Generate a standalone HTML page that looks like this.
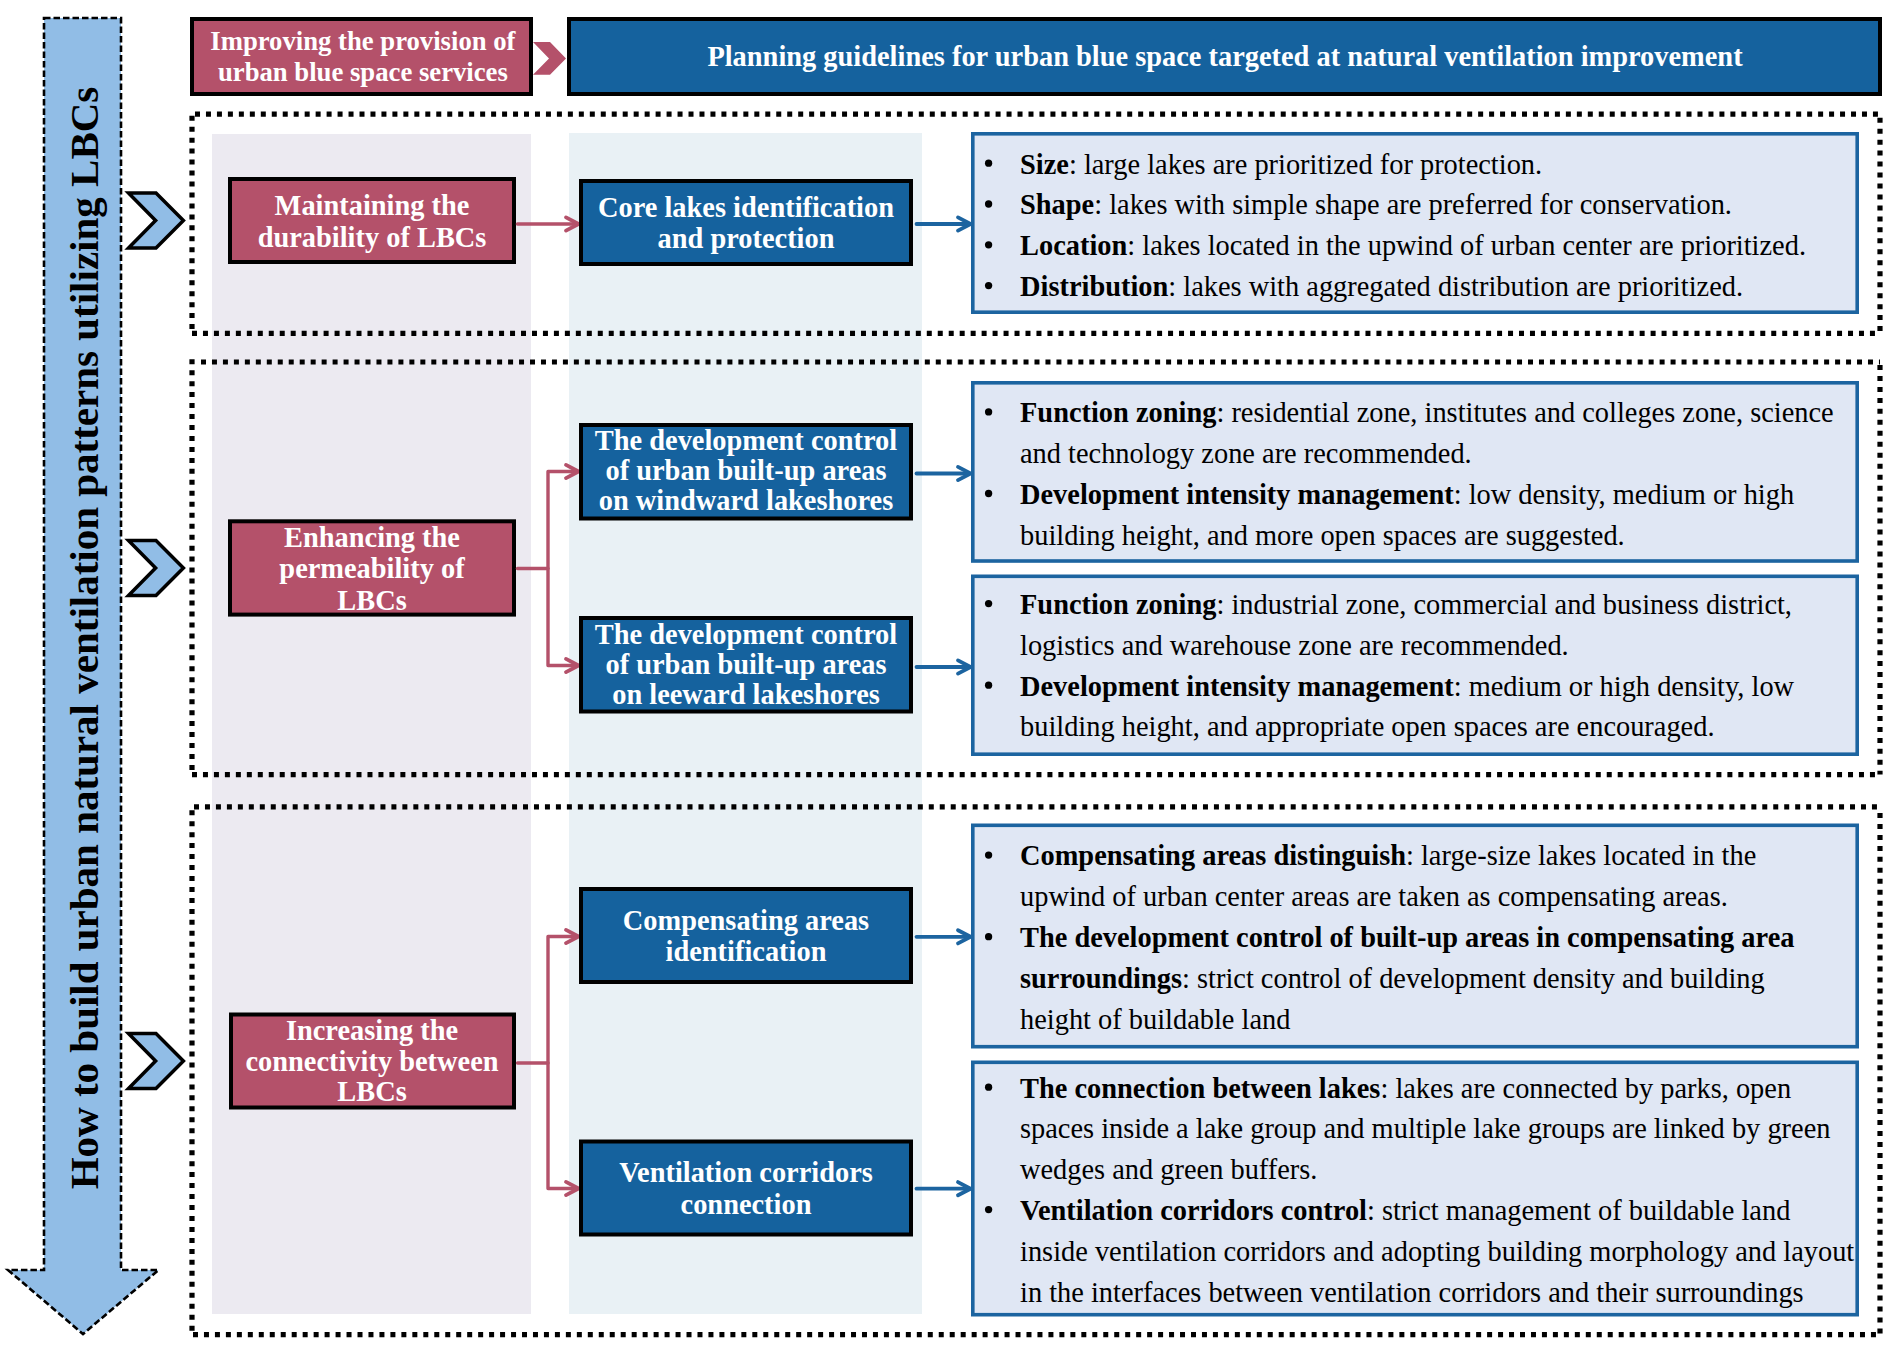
<!DOCTYPE html>
<html><head><meta charset="utf-8"><style>
html,body{margin:0;padding:0;background:#fff;width:1903px;height:1353px;overflow:hidden}
.t{position:absolute;white-space:nowrap;font-family:"Liberation Serif",serif}
svg{position:absolute;left:0;top:0}
</style></head><body>
<svg width="1903" height="1353" viewBox="0 0 1903 1353">
<rect x="212" y="134" width="319" height="1180" fill="#eceaf1"/>
<rect x="569" y="133" width="353" height="1181" fill="#e9f1f5"/>
<polygon points="44,18 121,18 121,1270 158.5,1270 83,1334 8,1270 44,1270" fill="#91bde6" stroke="#000" stroke-width="2.6" stroke-dasharray="6.5 3"/>
<rect x="192.0" y="19.0" width="339" height="75" fill="#b4516a" stroke="#000" stroke-width="4"/>
<polygon points="533,42 550,42 566,58.4 550,74.7 533,74.7 549,58.4" fill="#b4516a"/>
<rect x="569.0" y="19.0" width="1311" height="75" fill="#15629e" stroke="#000" stroke-width="4"/>
<line x1="195" y1="114.1" x2="1880" y2="114.1" stroke="#000" stroke-width="5.2" stroke-dasharray="5 5.967"/>
<line x1="192" y1="333.3" x2="1880" y2="333.3" stroke="#000" stroke-width="5.2" stroke-dasharray="5 5.967"/>
<line x1="192" y1="115.7" x2="192" y2="333.3" stroke="#000" stroke-width="5.2" stroke-dasharray="5 5.967"/>
<line x1="1880" y1="117.7" x2="1880" y2="333.3" stroke="#000" stroke-width="5.2" stroke-dasharray="5 5.967"/>
<line x1="201" y1="362" x2="1880" y2="362" stroke="#000" stroke-width="5.2" stroke-dasharray="5 5.967"/>
<line x1="192" y1="774.6" x2="1880" y2="774.6" stroke="#000" stroke-width="5.2" stroke-dasharray="5 5.967"/>
<line x1="192" y1="359.2" x2="192" y2="774.6" stroke="#000" stroke-width="5.2" stroke-dasharray="5 5.967"/>
<line x1="1880" y1="365" x2="1880" y2="774.6" stroke="#000" stroke-width="5.2" stroke-dasharray="5 5.967"/>
<line x1="194" y1="806.8" x2="1880" y2="806.8" stroke="#000" stroke-width="5.2" stroke-dasharray="5 5.967"/>
<line x1="193" y1="1334.6" x2="1880" y2="1334.6" stroke="#000" stroke-width="5.2" stroke-dasharray="5 5.967"/>
<line x1="192" y1="810.2" x2="192" y2="1334.6" stroke="#000" stroke-width="5.2" stroke-dasharray="5 5.967"/>
<line x1="1880" y1="813" x2="1880" y2="1334.6" stroke="#000" stroke-width="5.2" stroke-dasharray="5 5.967"/>
<polygon points="128.5,193.0 156.0,193.0 183.4,220.4 156.0,248.0 128.5,248.0 155.6,220.4" fill="#91bde6" stroke="#000" stroke-width="3.5" stroke-linejoin="miter" stroke-miterlimit="10"/>
<polygon points="128.5,540.6 156.0,540.6 183.4,568.0 156.0,595.6 128.5,595.6 155.6,568.0" fill="#91bde6" stroke="#000" stroke-width="3.5" stroke-linejoin="miter" stroke-miterlimit="10"/>
<polygon points="128.5,1033.6 156.0,1033.6 183.4,1061.0 156.0,1088.6 128.5,1088.6 155.6,1061.0" fill="#91bde6" stroke="#000" stroke-width="3.5" stroke-linejoin="miter" stroke-miterlimit="10"/>
<rect x="230.0" y="179.0" width="284" height="83" fill="#b4516a" stroke="#000" stroke-width="4"/>
<path d="M517.5 224H577" fill="none" stroke="#b4516a" stroke-width="3.6" stroke-linecap="round" stroke-linejoin="round"/>
<polyline points="566.0,217.4 578.5,224 566.0,230.6" fill="none" stroke="#b4516a" stroke-width="3.8" stroke-linecap="round" stroke-linejoin="round"/>
<rect x="581.0" y="181.0" width="330" height="83" fill="#15629e" stroke="#000" stroke-width="4"/>
<path d="M916.5 224H969" fill="none" stroke="#1c64a0" stroke-width="3.8" stroke-linecap="round" stroke-linejoin="round"/>
<polyline points="958.0,217.4 970.5,224 958.0,230.6" fill="none" stroke="#1c64a0" stroke-width="3.8" stroke-linecap="round" stroke-linejoin="round"/>
<rect x="972.8" y="133.8" width="884.4" height="178.4" fill="#e0e7f4" stroke="#1c64a0" stroke-width="3.6"/>
<circle cx="988.6" cy="163.20" r="3.65" fill="#000"/>
<circle cx="988.6" cy="204.00" r="3.65" fill="#000"/>
<circle cx="988.6" cy="244.80" r="3.65" fill="#000"/>
<circle cx="988.6" cy="285.60" r="3.65" fill="#000"/>
<rect x="230.0" y="521.3" width="284" height="93.30000000000007" fill="#b4516a" stroke="#000" stroke-width="4"/>
<path d="M517.5 568.5H548" fill="none" stroke="#b4516a" stroke-width="3.4" stroke-linecap="round" stroke-linejoin="round"/>
<path d="M577 471.5H548V665.5H577" fill="none" stroke="#b4516a" stroke-width="3.4" stroke-linecap="round" stroke-linejoin="round"/>
<polyline points="566.0,464.9 578.5,471.5 566.0,478.1" fill="none" stroke="#b4516a" stroke-width="3.8" stroke-linecap="round" stroke-linejoin="round"/>
<polyline points="566.0,658.9 578.5,665.5 566.0,672.1" fill="none" stroke="#b4516a" stroke-width="3.8" stroke-linecap="round" stroke-linejoin="round"/>
<rect x="581.0" y="425.0" width="330" height="93.5" fill="#15629e" stroke="#000" stroke-width="4"/>
<rect x="581.0" y="618.0" width="330" height="93.5" fill="#15629e" stroke="#000" stroke-width="4"/>
<path d="M916.5 473.5H969" fill="none" stroke="#1c64a0" stroke-width="3.8" stroke-linecap="round" stroke-linejoin="round"/>
<polyline points="958.0,466.9 970.5,473.5 958.0,480.1" fill="none" stroke="#1c64a0" stroke-width="3.8" stroke-linecap="round" stroke-linejoin="round"/>
<path d="M916.5 667H969" fill="none" stroke="#1c64a0" stroke-width="3.8" stroke-linecap="round" stroke-linejoin="round"/>
<polyline points="958.0,660.4 970.5,667 958.0,673.6" fill="none" stroke="#1c64a0" stroke-width="3.8" stroke-linecap="round" stroke-linejoin="round"/>
<rect x="972.8" y="382.8" width="884.4" height="178.19999999999996" fill="#e0e7f4" stroke="#1c64a0" stroke-width="3.6"/>
<circle cx="988.6" cy="411.90" r="3.65" fill="#000"/>
<circle cx="988.6" cy="493.50" r="3.65" fill="#000"/>
<rect x="972.8" y="576.3" width="884.4" height="177.9" fill="#e0e7f4" stroke="#1c64a0" stroke-width="3.6"/>
<circle cx="988.6" cy="603.60" r="3.65" fill="#000"/>
<circle cx="988.6" cy="685.20" r="3.65" fill="#000"/>
<rect x="231.0" y="1014.5" width="283" height="93.0" fill="#b4516a" stroke="#000" stroke-width="4"/>
<path d="M517.5 1063H548" fill="none" stroke="#b4516a" stroke-width="3.4" stroke-linecap="round" stroke-linejoin="round"/>
<path d="M577 936.5H548V1188.5H577" fill="none" stroke="#b4516a" stroke-width="3.4" stroke-linecap="round" stroke-linejoin="round"/>
<polyline points="566.0,929.9 578.5,936.5 566.0,943.1" fill="none" stroke="#b4516a" stroke-width="3.8" stroke-linecap="round" stroke-linejoin="round"/>
<polyline points="566.0,1181.9 578.5,1188.5 566.0,1195.1" fill="none" stroke="#b4516a" stroke-width="3.8" stroke-linecap="round" stroke-linejoin="round"/>
<rect x="581.0" y="889.0" width="330" height="93" fill="#15629e" stroke="#000" stroke-width="4"/>
<rect x="581.0" y="1141.5" width="330" height="93.0" fill="#15629e" stroke="#000" stroke-width="4"/>
<path d="M916.5 936.8H969" fill="none" stroke="#1c64a0" stroke-width="3.8" stroke-linecap="round" stroke-linejoin="round"/>
<polyline points="958.0,930.1999999999999 970.5,936.8 958.0,943.4" fill="none" stroke="#1c64a0" stroke-width="3.8" stroke-linecap="round" stroke-linejoin="round"/>
<path d="M916.5 1188.7H969" fill="none" stroke="#1c64a0" stroke-width="3.8" stroke-linecap="round" stroke-linejoin="round"/>
<polyline points="958.0,1182.1000000000001 970.5,1188.7 958.0,1195.3" fill="none" stroke="#1c64a0" stroke-width="3.8" stroke-linecap="round" stroke-linejoin="round"/>
<rect x="972.8" y="825.3" width="884.4" height="221.4" fill="#e0e7f4" stroke="#1c64a0" stroke-width="3.6"/>
<circle cx="988.6" cy="855.10" r="3.65" fill="#000"/>
<circle cx="988.6" cy="936.70" r="3.65" fill="#000"/>
<rect x="972.8" y="1062.3" width="884.4" height="252.4" fill="#e0e7f4" stroke="#1c64a0" stroke-width="3.6"/>
<circle cx="988.6" cy="1087.20" r="3.65" fill="#000"/>
<circle cx="988.6" cy="1209.60" r="3.65" fill="#000"/>
</svg>
<div class="t" style="left:-337.10px;top:26.24px;width:1400px;font-size:26.7px;line-height:30.7px;color:#fff;text-align:center;font-weight:bold">Improving the provision of<br>urban blue space services</div>
<div class="t" style="left:525.00px;top:41.41px;width:1400px;font-size:28.4px;line-height:31px;color:#fff;text-align:center;font-weight:bold">Planning guidelines for urban blue space targeted at natural ventilation improvement</div>
<div class="t" style="left:-328.00px;top:190.26px;width:1400px;font-size:28.4px;line-height:31.5px;color:#fff;text-align:center;font-weight:bold">Maintaining the<br>durability of LBCs</div>
<div class="t" style="left:46.00px;top:191.56px;width:1400px;font-size:28.4px;line-height:31.7px;color:#fff;text-align:center;font-weight:bold">Core lakes identification<br>and protection</div>
<div class="t" style="left:1020px;top:144.51px;font-size:28.4px;line-height:40.8px;color:#000"><b>Size</b>: large lakes are prioritized for protection.<br><b>Shape</b>: lakes with simple shape are preferred for conservation.<br><b>Location</b>: lakes located in the upwind of urban center are prioritized.<br><b>Distribution</b>: lakes with aggregated distribution are prioritized.</div>
<div class="t" style="left:-328.00px;top:521.76px;width:1400px;font-size:28.4px;line-height:31.5px;color:#fff;text-align:center;font-weight:bold">Enhancing the<br>permeability of<br>LBCs</div>
<div class="t" style="left:46.00px;top:426.42px;width:1400px;font-size:28.4px;line-height:30px;color:#fff;text-align:center;font-weight:bold">The development control<br>of urban built-up areas<br>on windward lakeshores</div>
<div class="t" style="left:46.00px;top:619.91px;width:1400px;font-size:28.4px;line-height:30px;color:#fff;text-align:center;font-weight:bold">The development control<br>of urban built-up areas<br>on leeward lakeshores</div>
<div class="t" style="left:1020px;top:393.21px;font-size:28.4px;line-height:40.8px;color:#000"><b>Function zoning</b>: residential zone, institutes and colleges zone, science<br>and technology zone are recommended.<br><b>Development intensity management</b>: low density, medium or high<br>building height, and more open spaces are suggested.</div>
<div class="t" style="left:1020px;top:584.91px;font-size:28.4px;line-height:40.8px;color:#000"><b>Function zoning</b>: industrial zone, commercial and business district,<br>logistics and warehouse zone are recommended.<br><b>Development intensity management</b>: medium or high density, low<br>building height, and appropriate open spaces are encouraged.</div>
<div class="t" style="left:-328.00px;top:1016.07px;width:1400px;font-size:28.4px;line-height:30.7px;color:#fff;text-align:center;font-weight:bold">Increasing the<br>connectivity between<br>LBCs</div>
<div class="t" style="left:46.00px;top:904.82px;width:1400px;font-size:28.4px;line-height:31.4px;color:#fff;text-align:center;font-weight:bold">Compensating areas<br>identification</div>
<div class="t" style="left:46.00px;top:1156.87px;width:1400px;font-size:28.4px;line-height:31.7px;color:#fff;text-align:center;font-weight:bold">Ventilation corridors<br>connection</div>
<div class="t" style="left:1020px;top:836.41px;font-size:28.4px;line-height:40.8px;color:#000"><b>Compensating areas distinguish</b>: large-size lakes located in the<br>upwind of urban center areas are taken as compensating areas.<br><b>The development control of built-up areas in compensating area</b><br><b>surroundings</b>: strict control of development density and building<br>height of buildable land</div>
<div class="t" style="left:1020px;top:1068.52px;font-size:28.4px;line-height:40.8px;color:#000"><b>The connection between lakes</b>: lakes are connected by parks, open<br>spaces inside a lake group and multiple lake groups are linked by green<br>wedges and green buffers.<br><b>Ventilation corridors control</b>: strict management of buildable land<br>inside ventilation corridors and adopting building morphology and layout<br>in the interfaces between ventilation corridors and their surroundings</div>
<div class="t" style="left:-516px;top:612.5px;width:1200px;height:50px;font-size:41px;line-height:50px;text-align:center;font-weight:bold;color:#000;transform:rotate(-90deg);transform-origin:600px 25.0px">How to build urban natural ventilation patterns utilizing LBCs</div>
</body></html>
